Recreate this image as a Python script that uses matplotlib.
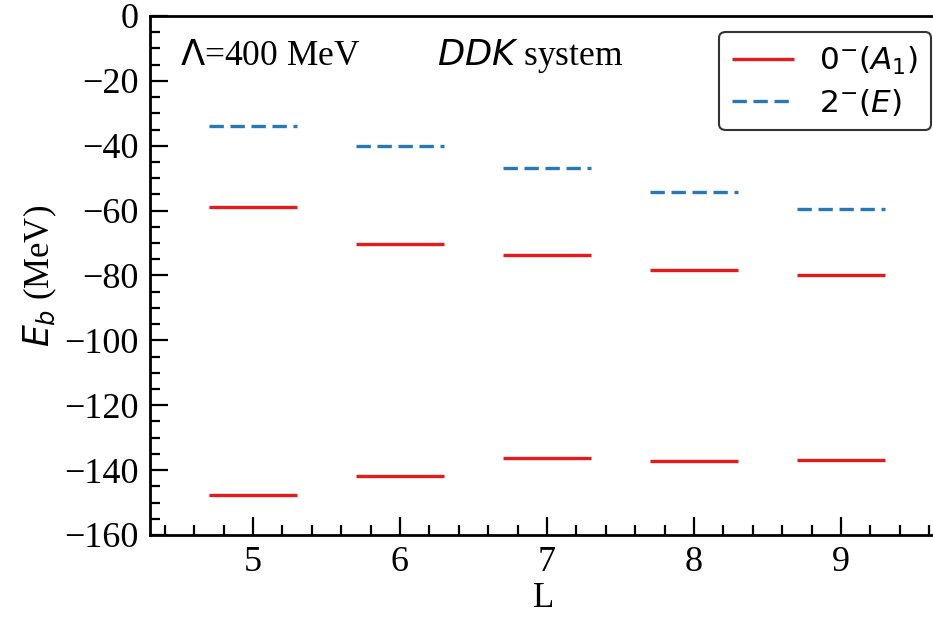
import numpy as np
import matplotlib
matplotlib.use("Agg")
import matplotlib.pyplot as plt
from matplotlib.ticker import MultipleLocator

# Binding energies (MeV) for each box size L
L = [5, 6, 7, 8, 9]
a1_upper = [-59.0, -70.3, -73.6, -78.2, -80.0]
a1_lower = [-147.6, -141.9, -136.2, -137.2, -136.8]
e_level = [-34.0, -40.1, -46.8, -54.3, -59.6]

half_width = 0.3
red = '#e41a1c'
blue = '#2878b8'

plt.rcParams['font.family'] = 'Liberation Serif'
plt.rcParams['mathtext.fontset'] = 'dejavusans'

fig = plt.figure(figsize=(9.33, 6.22), dpi=100)
ax = fig.add_axes([0.1608, 0.1399, 0.843, 0.8344])

x = np.array(L)
ax.hlines(a1_upper, x - half_width, x + half_width, color=red, lw=2.4,
          label=r'$0^{-}(A_1)$')
ax.hlines(a1_lower, x - half_width, x + half_width, color=red, lw=2.4)
ax.hlines(e_level, x - half_width, x + half_width, color=blue, lw=2.4,
          linestyles=(0, (4.3, 2.0)), label=r'$2^{-}(E)$')

ax.set_xlim(4.3, 9.65)
ax.set_ylim(-160, 0)
ax.set_xticks(L)
ax.xaxis.set_minor_locator(MultipleLocator(0.2))
ax.yaxis.set_major_locator(MultipleLocator(20))
ax.yaxis.set_minor_locator(MultipleLocator(5))
ax.tick_params(which='both', direction='in', labelsize=26, width=1.6)
ax.tick_params(which='major', length=13, pad=8)
ax.tick_params(which='minor', length=7)
for s in ax.spines.values():
    s.set_linewidth(2)

ax.set_xlabel('L', fontsize=25, labelpad=2)
ax.set_ylabel(r'$E_b$ (MeV)', fontsize=25, labelpad=4)

ax.text(0.038, 0.922, r'$\Lambda$=400 MeV', transform=ax.transAxes,
        fontsize=25.5, va='center', ha='left')
ax.text(0.365, 0.922, r'$DDK$ system', transform=ax.transAxes,
        fontsize=25.5, va='center', ha='left')

leg = ax.legend(loc='upper right', bbox_to_anchor=(931 / 933, 1 - 32 / 622),
                bbox_transform=fig.transFigure, borderaxespad=0,
                handlelength=2.0, handletextpad=0.8, labelspacing=0.32,
                borderpad=0.4, framealpha=1, fancybox=True,
                prop={'family': 'DejaVu Sans', 'size': 22.5})
leg.get_frame().set_edgecolor('#333333')
leg.get_frame().set_linewidth(1.5)

fig.savefig('out.png', dpi=100)
